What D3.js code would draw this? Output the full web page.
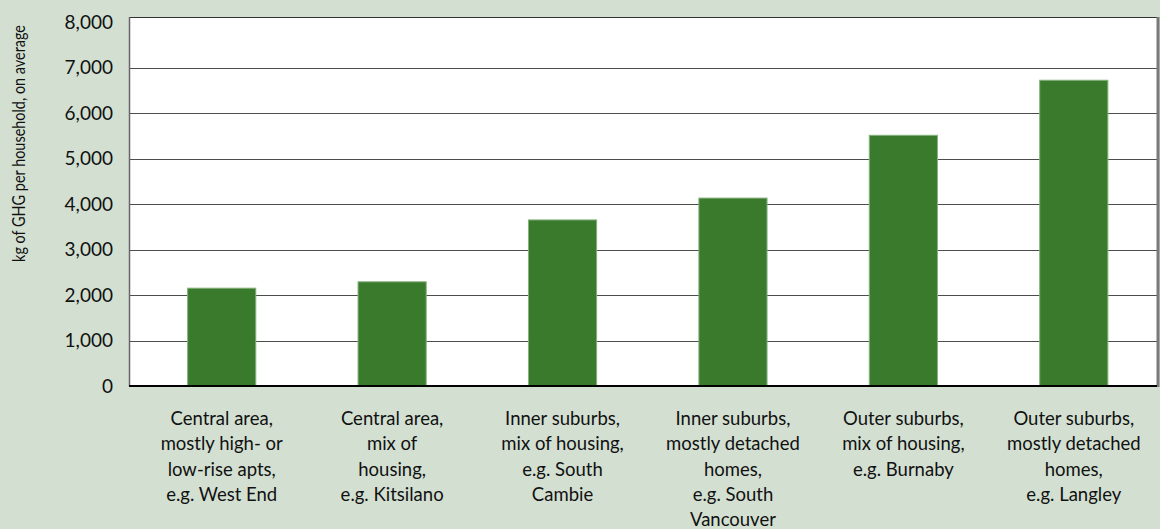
<!DOCTYPE html>
<html>
<head>
<meta charset="utf-8">
<script src="https://cdn.jsdelivr.net/npm/d3@7"></script>
<style>
    body { margin: 0; background: #d3e0d1; }
    svg { display: block; }
    text { font-family: Lato, 'Open Sans', sans-serif; fill: #111; }
</style>
</head>
<body>
<svg id="chart" width="1160" height="529"></svg>
<script>
const categories = [
    'Central area,\nmostly high- or\nlow-rise apts,\ne.g. West End',
    'Central area,\nmix of\nhousing,\ne.g. Kitsilano',
    'Inner suburbs,\nmix of housing,\ne.g. South\nCambie',
    'Inner suburbs,\nmostly detached\nhomes,\ne.g. South\nVancouver',
    'Outer suburbs,\nmix of housing,\ne.g. Burnaby',
    'Outer suburbs,\nmostly detached\nhomes,\ne.g. Langley'
]
const ghgValues = [2150, 2290, 3650, 4130, 5510, 6720]
const yTicks = [0, 1000, 2000, 3000, 4000, 5000, 6000, 7000, 8000]
const yTitle = 'kg of GHG per household, on average'

const frame = { left: 129, right: 1158, top: 17, bottom: 386 }

const svg = d3.select('#chart')

const x = d3.scaleBand()
    .domain(categories)
    .range([136.5, 1159])
    .paddingInner(0.6)
    .paddingOuter(0.3)

const y = d3.scaleLinear()
    .domain([0, 8000])
    .range([frame.bottom, 22])

// plot background
svg.append('rect')
    .attr('x', frame.left)
    .attr('y', frame.top)
    .attr('width', frame.right - frame.left)
    .attr('height', frame.bottom - frame.top)
    .attr('fill', '#fff')

// gridlines
svg.append('g')
    .selectAll('line')
    .data(yTicks.filter(d => d > 0 && d < 8000))
    .join('line')
    .attr('x1', frame.left)
    .attr('x2', frame.right)
    .attr('y1', d => Math.round(y(d)) + 0.5)
    .attr('y2', d => Math.round(y(d)) + 0.5)
    .attr('stroke', '#4d4d4d')
    .attr('stroke-width', 1)

// bars
svg.append('g')
    .selectAll('rect')
    .data(ghgValues)
    .join('rect')
    .attr('x', (d, i) => x(categories[i]))
    .attr('y', d => y(d))
    .attr('width', x.bandwidth())
    .attr('height', d => y(0) - y(d))
    .attr('fill', '#3a7a2d')
    .attr('stroke', '#86b17b')
    .attr('stroke-width', 1)

// frame edges
svg.append('line')
    .attr('x1', frame.left).attr('x2', frame.right)
    .attr('y1', frame.top + 0.5).attr('y2', frame.top + 0.5)
    .attr('stroke', '#333')
svg.append('line')
    .attr('x1', frame.left + 0.5).attr('x2', frame.left + 0.5)
    .attr('y1', frame.top).attr('y2', frame.bottom)
    .attr('stroke', '#666').attr('stroke-width', 1.5)
svg.append('line')
    .attr('x1', frame.right).attr('x2', frame.right)
    .attr('y1', frame.top).attr('y2', frame.bottom + 1)
    .attr('stroke', '#7a7a7a').attr('stroke-width', 3)
svg.append('line')
    .attr('x1', frame.left).attr('x2', frame.right - 1)
    .attr('y1', frame.bottom).attr('y2', frame.bottom)
    .attr('stroke', '#000').attr('stroke-width', 2)

// y axis labels
const yAxis = d3.axisLeft(y)
    .tickValues(yTicks)
    .tickFormat(d3.format(','))
    .tickSize(0)
    .tickPadding(16)

svg.append('g')
    .attr('transform', `translate(${frame.left},0)`)
    .call(yAxis)
    .call(g => g.select('.domain').remove())
    .selectAll('text')
    .style('font-size', '19px')
    .style('font-family', 'Lato, sans-serif')
    .attr('fill', '#111')

// category labels
svg.append('g')
    .selectAll('text')
    .data(categories)
    .join('text')
    .attr('x', d => x(d) + x.bandwidth() / 2)
    .attr('y', 425)
    .attr('text-anchor', 'middle')
    .style('font-size', '18.5px')
    .each((d, i, nodes) => {
        const label = d3.select(nodes[i])
        d.split('\n').forEach((line, j) => {
            label.append('tspan')
                .attr('x', x(d) + x.bandwidth() / 2)
                .attr('y', 425 + j * 25.3)
                .text(line)
        })
    })

// y title, narrowed to the width of the original condensed face
const title = svg.append('text')
    .attr('text-anchor', 'middle')
    .style('font-size', '18px')
    .text(yTitle)
const squeeze = 237 / title.node().getComputedTextLength()
title.attr('transform', `translate(25,143.5) rotate(-90) scale(${squeeze},1)`)
</script>
</body>
</html>
